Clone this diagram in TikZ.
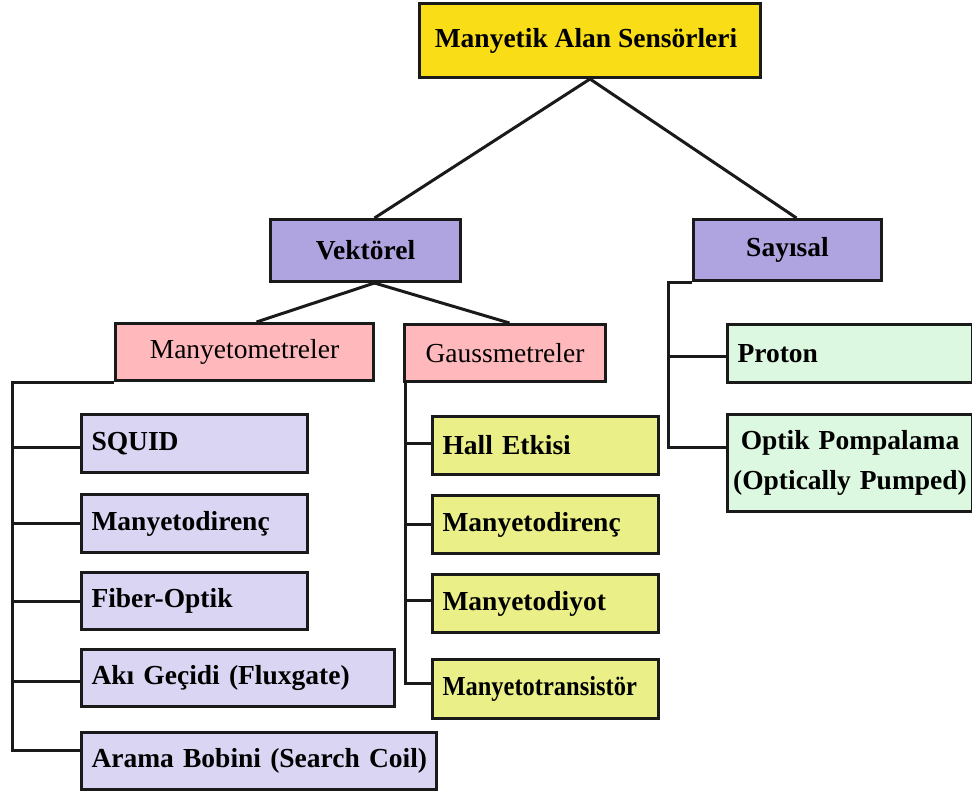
\documentclass[tikz,border=0pt]{standalone}
\usepackage{fontspec}
\setmainfont{Liberation Serif}
\definecolor{topY}{HTML}{F9DD16}
\definecolor{vek}{HTML}{AFA4E0}
\definecolor{pinkb}{HTML}{FFB8BC}
\definecolor{lav}{HTML}{DAD5F3}
\definecolor{gaussY}{HTML}{EAF087}
\definecolor{mint}{HTML}{DDF8E0}
\definecolor{ink}{HTML}{1A1A1A}
\newcommand\bfsz{\fontsize{27.5}{40}\selectfont\bfseries}
\newcommand\rgsz{\fontsize{27.5}{40}\selectfont}
\tikzset{
  box/.style={draw=ink, line width=3pt, anchor=north west, inner sep=0pt, font=\bfsz},
  cbox/.style 2 args={box, align=center, minimum width=#1, minimum height=#2},
  lbox/.style 2 args={box, align=left, inner xsep=10pt, text width=#1, minimum height=#2},
  conn/.style={draw=ink, line width=3pt}
}
\begin{document}
\begin{tikzpicture}[x=1pt,y=-1pt]
\useasboundingbox (0,0) rectangle (972,793);
% top levels
\node[cbox={341pt}{74pt}, fill=topY] (top) at (418,2) {Manyetik Alan Sensörleri\hspace{8pt}};
\node[cbox={190pt}{62pt}, fill=vek] (vk) at (269,218) {Vektörel};
\node[cbox={188pt}{61pt}, fill=vek] (sy) at (692,218) {Sayısal};
\node[cbox={258pt}{57pt}, fill=pinkb, font=\rgsz] (mm) at (114,322) {Manyetometreler};
\node[cbox={201pt}{57pt}, fill=pinkb, font=\rgsz] (gm) at (403,323) {Gaussmetreler};
% left column
\node[lbox={206pt}{58pt}, fill=lav] (sq) at (80,413) {SQUID};
\node[lbox={206pt}{58pt}, fill=lav] (mdA) at (80,493) {Manyetodirenç};
\node[lbox={206pt}{57pt}, fill=lav] (fo) at (80,571) {Fiber-Optik};
\node[lbox={293pt}{57pt}, fill=lav] (ak) at (80,648) {\mbox{Akı Geçidi (Fluxgate)}};
\node[lbox={335pt}{57pt}, fill=lav] (ar) at (80,731) {\mbox{Arama Bobini (Search Coil)}};
% gauss column
\node[lbox={206pt}{58pt}, fill=gaussY] (he) at (431,415) {Hall Etkisi};
\node[lbox={206pt}{58pt}, fill=gaussY] (mdB) at (431,494) {Manyetodirenç};
\node[lbox={206pt}{58pt}, fill=gaussY] (mdy) at (431,573) {Manyetodiyot};
\node[lbox={206pt}{59pt}, fill=gaussY] (mtr) at (431,658) {\scalebox{0.89}[1]{Manyetotransistör}};
% sayisal column
\node[lbox={225pt}{58pt}, fill=mint] (pr) at (726,323) {Proton};
\node[box, align=center, inner xsep=2pt, text width=241pt, minimum height=97pt, fill=mint] (op) at (726,413) {Optik Pompalama\\(Optically Pumped)};
% connector end points
\coordinate (sqw) at ([yshift=-4pt]sq.west);
\coordinate (akw) at ([yshift=-3.5pt]ak.west);
\coordinate (arw) at ([yshift=10.5pt]ar.west);
\coordinate (hew) at ([yshift=2pt]he.west);
\coordinate (mdyw) at ([yshift=3pt]mdy.west);
\coordinate (mtrw) at ([yshift=5.5pt]mtr.west);
\coordinate (prw) at ([yshift=-3pt]pr.west);
\coordinate (opw) at ([yshift=15.5pt]op.west);
% connectors
\draw[conn] (top.south) -- ([xshift=9pt]vk.north);
\draw[conn] (top.south) -- ([xshift=9pt]sy.north);
\draw[conn] ([xshift=9pt]vk.south) -- ([xshift=12pt]mm.north);
\draw[conn] ([xshift=9pt]vk.south) -- ([xshift=4.5pt]gm.north);
% left trunk
\coordinate (tl) at ([xshift=-102pt]mm.south west);
\draw[conn] (mm.south west) -- (tl) |- (arw);
\draw[conn] (tl |- sqw) -- (sqw);
\draw[conn] (tl |- mdA.west) -- (mdA.west);
\draw[conn] (tl |- fo.west) -- (fo.west);
\draw[conn] (tl |- akw) -- (akw);
% gauss trunk
\coordinate (tg) at ([xshift=2pt]gm.south west);
\draw[conn] (tg) |- (mtrw);
\draw[conn] (tg |- hew) -- (hew);
\draw[conn] (tg |- mdB.west) -- (mdB.west);
\draw[conn] (tg |- mdyw) -- (mdyw);
% sayisal trunk
\coordinate (ts) at ([xshift=-24pt]sy.south west);
\draw[conn] (sy.south west) -- (ts) |- (opw);
\draw[conn] (ts |- prw) -- (prw);
\end{tikzpicture}
\end{document}
